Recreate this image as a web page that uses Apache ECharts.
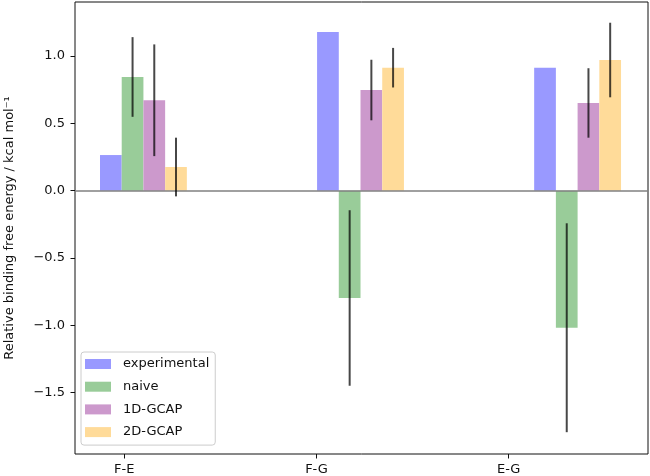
<!DOCTYPE html>
<html>
<head>
<meta charset="utf-8">
<script src="https://cdn.jsdelivr.net/npm/echarts@6/dist/echarts.min.js"></script>
<style>html,body{margin:0;padding:0;background:#fff}#c{width:650px;height:476px}</style>
</head>
<body>
<div id="c"></div>
<script>
// ---- data ----
const categories = ['F-E', 'F-G', 'E-G'];
const seriesNames = ['experimental', 'naive', '1D-GCAP', '2D-GCAP'];
const experimental = [0.265, 1.179, 0.914];
const naive = [0.845, -0.797, -1.018];
const naiveErr = [0.296, 0.652, 0.776];
const gcap1d = [0.672, 0.748, 0.652];
const gcap1dErr = [0.415, 0.225, 0.258];
const gcap2d = [0.176, 0.914, 0.971];
const gcap2dErr = [0.218, 0.147, 0.277];
const yTicks = [-1.5, -1.0, -0.5, 0.0, 0.5, 1.0];

// ---- layout / style ----
const GROUP_STEP = 1.1295, FIRST = -0.070, BAR_W = 0.113;
const X_MIN = -0.2565, X_MAX = 2.7248, Y_MIN = -1.956, Y_MAX = 1.402;
const GRID = {left: 75, top: 2, right: 2, bottom: 22};
const colors = ['#9999ff', '#99cc99', '#cc99cc', '#ffdb99'];
const FONT = 'DejaVu Sans';
const FS = 13;
const pxPerUnit = (650 - GRID.left - GRID.right) / (X_MAX - X_MIN);

const values = [experimental, naive, gcap1d, gcap2d];
const errs = [null, naiveErr, gcap1dErr, gcap2dErr];
const xpos = (g, s) => g * GROUP_STEP + FIRST + s * BAR_W;
const fmt = v => v.toFixed(1).replace('-', '\u2212');

const series = [];
values.forEach((arr, s) => {
  const sr = {
    name: seriesNames[s], type: 'bar', barGap: '-100%',
    barWidth: BAR_W * pxPerUnit,
    itemStyle: {color: colors[s]},
    data: arr.map((v, g) => [xpos(g, s), v]),
    z: 2
  };
  if (s === 0) {
    sr.markLine = {
      silent: true, symbol: 'none', label: {show: false},
      lineStyle: {color: '#808080', width: 1.6, type: 'solid'},
      data: [{yAxis: 0}], z: 3
    };
  }
  series.push(sr);
});
errs.forEach((e, s) => {
  if (!e) return;
  series.push({
    type: 'custom', z: 5, silent: true,
    data: values[s].map((v, g) => [xpos(g, s), v, e[g]]),
    encode: {x: 0, y: 1},
    renderItem: (params, api) => {
      const x = api.value(0), v = api.value(1), er = api.value(2);
      const p1 = api.coord([x, v - er]), p2 = api.coord([x, v + er]);
      return {type: 'line', shape: {x1: p1[0], y1: p1[1], x2: p2[0], y2: p2[1]},
        style: {stroke: 'rgba(0,0,0,0.72)', lineWidth: 2}};
    }
  });
});

const chart = echarts.init(document.getElementById('c'), null, {renderer: 'canvas'});
chart.setOption({
  animation: false,
  grid: Object.assign({show: true, borderColor: '#111', borderWidth: 1, backgroundColor: 'transparent',
    containLabel: false, outerBoundsMode: 'none'}, GRID),
  legend: {
    orient: 'vertical', left: 81, top: 352,
    data: seriesNames, icon: 'rect', itemWidth: 26, itemHeight: 10, itemGap: 8.7,
    padding: [5, 6, 6, 4],
    backgroundColor: 'rgba(255,255,255,0.85)', borderColor: '#cccccc', borderWidth: 1, borderRadius: 3,
    textStyle: {fontFamily: FONT, fontSize: FS, color: '#111', lineHeight: 14, padding: [0, 0, 0, 7]}
  },
  xAxis: {
    type: 'value', min: X_MIN, max: X_MAX,
    axisLine: {show: false, onZero: false}, splitLine: {show: false},
    axisTick: {show: true, inside: false, length: 4.5, lineStyle: {color: '#111'}, customValues: categories.map((c, i) => i)},
    axisLabel: {show: true, margin: 9, fontFamily: FONT, fontSize: FS, color: '#111',
      customValues: categories.map((c, i) => i), formatter: v => categories[Math.round(v)] || ''}
  },
  yAxis: {
    type: 'value', min: Y_MIN, max: Y_MAX,
    name: 'Relative binding free energy / kcal mol\u207B\u00B9',
    nameLocation: 'middle', nameRotate: 90, nameGap: 59,
    nameTextStyle: {fontFamily: FONT, fontSize: FS, color: '#111'},
    axisLine: {show: false, onZero: false}, splitLine: {show: false},
    axisTick: {show: true, inside: false, length: 4.5, lineStyle: {color: '#111'}, customValues: yTicks},
    axisLabel: {show: true, margin: 10, fontFamily: FONT, fontSize: FS, color: '#111',
      customValues: yTicks, formatter: fmt}
  },
  series: series
});
</script>
</body>
</html>
